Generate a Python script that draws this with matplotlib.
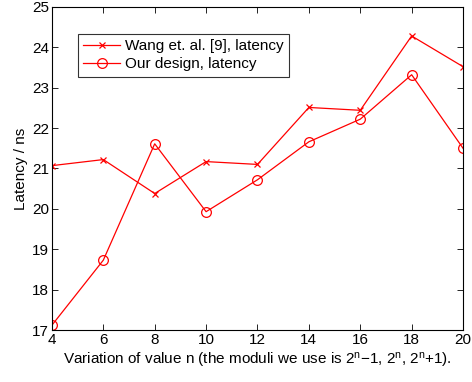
import matplotlib
matplotlib.use("Agg")
import matplotlib.pyplot as plt

plt.rcParams['font.family'] = ['Liberation Sans', 'DejaVu Sans']

n_values = [4, 6, 8, 10, 12, 14, 16, 18, 20]
wang_latency = [21.07, 21.22, 20.38, 21.17, 21.10, 22.51, 22.44, 24.28, 23.52]
our_latency = [17.12, 18.73, 21.61, 19.93, 20.72, 21.66, 22.22, 23.32, 21.50]

fig = plt.figure(figsize=(4.72, 3.82), dpi=100)
ax = fig.add_axes([0.110, 0.136, 0.871, 0.846])

ax.plot(n_values, wang_latency, color='#ff0000', lw=0.9, marker='x', ms=4,
        mew=0.9, label='Wang et. al. [9], latency')
ax.plot(n_values, our_latency, color='#ff0000', lw=0.9, marker='o', ms=7,
        mfc='none', mew=0.9, label='Our design, latency')

ax.set_xlim(4, 20)
ax.set_ylim(17, 25)
ax.set_xticks(range(4, 21, 2))
ax.set_yticks(range(17, 26))
ax.tick_params(direction='in', top=True, right=True, length=4, width=0.6,
               labelsize=11, pad=2)
for s in ax.spines.values():
    s.set_linewidth(0.8)

ax.set_xlabel('Variation of value n (the moduli we use is $\\mathregular{2^n}$\u22121, '
              '$\\mathregular{2^n}$, $\\mathregular{2^n}$+1).', fontsize=11, labelpad=3)
ax.set_ylabel('Latency / ns', fontsize=11, labelpad=3)

leg = ax.legend(loc='upper left', bbox_to_anchor=(0.063, 0.916), fontsize=11,
                frameon=True, fancybox=False, edgecolor='black',
                handlelength=2.4, borderpad=0.35, labelspacing=0.25,
                handletextpad=0.35, borderaxespad=0)
leg.get_frame().set_linewidth(0.8)

fig.savefig('out.png', dpi=100)
